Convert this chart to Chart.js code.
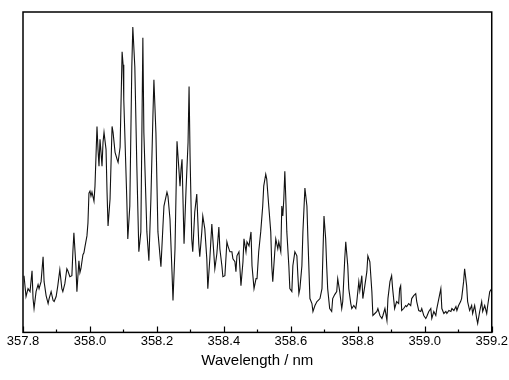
<!DOCTYPE html>
<html>
<head>
<meta charset="utf-8">
<script src="https://cdn.jsdelivr.net/npm/chart.js@4.4.0/dist/chart.umd.min.js"></script>
<style>
  html, body { margin: 0; padding: 0; background: #fff; }
  #wrap { width: 509px; height: 380px; }
</style>
</head>
<body>
<div id="wrap"><canvas id="spectrum" width="509" height="380"></canvas></div>
<script>
// wavelength (nm) and emission intensity (arb. units)
const wavelengths = [
  357.803, 357.809, 357.815, 357.821, 357.827, 357.830, 357.833, 357.839, 357.845, 357.848,
  357.854, 357.860, 357.863, 357.869, 357.875, 357.878, 357.884, 357.890, 357.893, 357.899,
  357.904, 357.910, 357.916, 357.919, 357.925, 357.931, 357.934, 357.940, 357.946, 357.949,
  357.952, 357.958, 357.961, 357.967, 357.970, 357.973, 357.979, 357.982, 357.985, 357.991,
  357.994, 357.997, 358.000, 358.003, 358.006, 358.012, 358.015, 358.021, 358.024, 358.027,
  358.030, 358.033, 358.036, 358.039, 358.042, 358.048, 358.051, 358.054, 358.060, 358.066,
  358.069, 358.075, 358.081, 358.084, 358.090, 358.096, 358.099, 358.101, 358.104, 358.110,
  358.113, 358.119, 358.125, 358.128, 358.134, 358.140, 358.146, 358.152, 358.158, 358.161,
  358.170, 358.176, 358.182, 358.188, 358.191, 358.197, 358.203, 358.212, 358.218, 358.221,
  358.230, 358.233, 358.239, 358.245, 358.248, 358.254, 358.260, 358.263, 358.269, 358.272,
  358.275, 358.281, 358.287, 358.293, 358.296, 358.299, 358.304, 358.307, 358.313, 358.319,
  358.325, 358.328, 358.334, 358.337, 358.343, 358.349, 358.352, 358.358, 358.364, 358.367,
  358.373, 358.379, 358.385, 358.388, 358.394, 358.397, 358.403, 358.409, 358.412, 358.418,
  358.424, 358.427, 358.433, 358.436, 358.439, 358.445, 358.451, 358.457, 358.460, 358.466,
  358.469, 358.475, 358.481, 358.484, 358.490, 358.496, 358.499, 358.504, 358.510, 358.516,
  358.519, 358.525, 358.528, 358.534, 358.540, 358.543, 358.546, 358.552, 358.555, 358.561,
  358.564, 358.570, 358.573, 358.576, 358.579, 358.582, 358.585, 358.588, 358.594, 358.597,
  358.603, 358.606, 358.612, 358.618, 358.621, 358.624, 358.627, 358.633, 358.636, 358.642,
  358.648, 358.651, 358.657, 358.663, 358.666, 358.672, 358.678, 358.681, 358.687, 358.693,
  358.696, 358.699, 358.704, 358.707, 358.710, 358.716, 358.722, 358.725, 358.731, 358.737,
  358.740, 358.746, 358.752, 358.755, 358.761, 358.764, 358.770, 358.773, 358.779, 358.782,
  358.788, 358.794, 358.797, 358.803, 358.806, 358.812, 358.815, 358.821, 358.827, 358.830,
  358.836, 358.842, 358.845, 358.851, 358.857, 358.860, 358.866, 358.872, 358.875, 358.881,
  358.887, 358.890, 358.896, 358.901, 358.904, 358.910, 358.916, 358.922, 358.925, 358.928,
  358.931, 358.937, 358.943, 358.946, 358.952, 358.958, 358.961, 358.967, 358.973, 358.976,
  358.982, 358.988, 358.991, 358.997, 359.003, 359.006, 359.012, 359.018, 359.021, 359.027,
  359.033, 359.036, 359.042, 359.048, 359.051, 359.057, 359.063, 359.066, 359.072, 359.078,
  359.081, 359.087, 359.093, 359.096, 359.101, 359.107, 359.110, 359.116, 359.119, 359.125,
  359.128, 359.134, 359.140, 359.143, 359.149, 359.155, 359.158, 359.164, 359.170, 359.173,
  359.179, 359.185, 359.188, 359.194, 359.200
];

const intensity = [
   57,  36,  44,  41,  62,  34,  24,  41,  48,  44,
   51,  76,  51,  37,  29,  34,  41,  32,  31,  36,
   47,  63,  44,  41,  49,  64,  62,  56,  57,  81,
  100,  67,  41,  72,  60,  64,  78,  80,  86,  97,
  110, 140, 142, 137, 141, 132, 147, 207, 184, 167,
  194, 181, 167, 191, 201, 184, 141, 107, 134, 207,
  201, 181, 174, 171, 186, 282, 269, 234, 201, 134,
   94, 127, 267, 307, 267, 167,  81, 101, 296, 201,
  101,  72, 134, 217, 254, 201, 101,  66, 107, 127,
  141, 137, 114,  61,  32,  84, 192, 177, 147, 164,
  174,  89, 144, 191, 247, 177,  94,  81, 121, 139,
   89,  76, 101, 117, 104,  74,  44,  74, 109,  94,
   64,  79, 106,  84,  67,  56,  57,  91,  87,  81,
   81,  74,  71,  61,  77,  81,  47,  71,  94,  81,
   91,  87, 101,  67,  44,  54,  54,  81, 101, 127,
  147, 159, 154, 127, 101,  67,  51,  81,  94,  84,
   91,  81, 127, 117, 134, 162, 134, 101,  67,  44,
   41,  67,  81,  77,  57,  39,  44,  67, 101, 145,
  127,  94,  34,  29,  21,  27,  31,  32,  34,  44,
   81, 117,  94,  67,  44,  24,  21,  34,  38,  41,
   54,  41,  24,  31,  74,  91,  67,  44,  29,  24,
   27,  24,  31,  51,  42,  57,  34,  47,  61,  77,
   71,  41,  17,  19,  21,  24,  17,  14,  17,  24,
   12,  34,  51,  57,  44,  24,  31,  29,  44,  47,
   22,  24,  27,  26,  29,  27,  34,  37,  39,  31,
   22,  21,  24,  17,  14,  16,  21,  24,  14,  21,
   17,  24,  34,  44,  24,  19,  21,  19,  22,  21,
   24,  22,  26,  22,  27,  31,  34,  51,  64,  47,
   31,  22,  27,  19,  27,  14,   9,  21,  31,  21,
   27,  19,  27,  41,  44
];

const xMin = 357.8;
const xMax = 359.2;
const majorTicks = [357.8, 358.0, 358.2, 358.4, 358.6, 358.8, 359.0, 359.2];
const minorTicks = [357.9, 358.1, 358.3, 358.5, 358.7, 358.9, 359.1];

const points = wavelengths.map((w, i) => ({ x: w, y: intensity[i] }));

// frame + inward ticks, as in the original figure
const framePlugin = {
  id: "frame",
  afterDraw(chart) {
    const { ctx, chartArea: a, scales } = chart;
    const xs = scales.x;
    ctx.save();
    ctx.strokeStyle = "#000";
    ctx.lineWidth = 1.5;
    ctx.strokeRect(a.left, a.top, a.right - a.left, a.bottom - a.top);
    ctx.lineWidth = 1.2;
    ctx.beginPath();
    majorTicks.forEach(v => {
      const px = Math.round(xs.getPixelForValue(v)) + 0.5;
      ctx.moveTo(px, a.bottom);
      ctx.lineTo(px, a.bottom - 6);
    });
    minorTicks.forEach(v => {
      const px = Math.round(xs.getPixelForValue(v)) + 0.5;
      ctx.moveTo(px, a.bottom);
      ctx.lineTo(px, a.bottom - 3);
    });
    ctx.stroke();
    ctx.restore();
  }
};

new Chart(document.getElementById("spectrum"), {
  type: "line",
  data: {
    datasets: [{
      data: points,
      borderColor: "#111",
      borderWidth: 1.1,
      pointRadius: 0,
      tension: 0,
      fill: false
    }]
  },
  options: {
    responsive: false,
    animation: false,
    layout: { padding: { left: 23, right: 17, top: 12, bottom: 10 } },
    plugins: { legend: { display: false }, tooltip: { enabled: false } },
    scales: {
      x: {
        type: "linear",
        min: xMin,
        max: xMax,
        afterBuildTicks(scale) {
          scale.ticks = majorTicks.map(v => ({ value: v }));
        },
        ticks: {
          padding: 1,
          color: "#000",
          font: { family: "'Liberation Sans', Arial, sans-serif", size: 13 },
          maxRotation: 0,
          callback: v => v.toFixed(1)
        },
        grid: { display: false, drawTicks: false },
        border: { display: false },
        title: {
          display: true,
          text: "Wavelength / nm",
          color: "#000",
          font: { family: "'Liberation Sans', Arial, sans-serif", size: 15 },
          padding: { top: 2, bottom: 0 }
        }
      },
      y: {
        display: false,
        min: 0,
        max: 322
      }
    }
  },
  plugins: [framePlugin]
});
</script>
</body>
</html>
